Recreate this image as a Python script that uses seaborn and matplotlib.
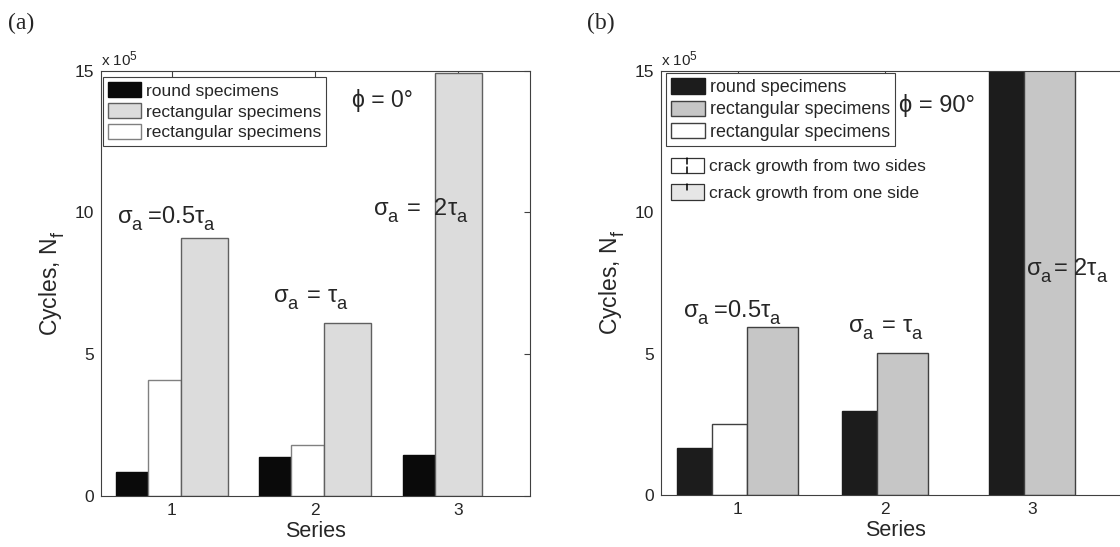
import numpy as np
import pandas as pd
import seaborn as sns
import matplotlib.pyplot as plt
from matplotlib.patches import Patch, Rectangle
from matplotlib.lines import Line2D
from matplotlib.legend_handler import HandlerBase
from matplotlib.colors import to_rgba

# data (cycles to failure, x 10^5)
series = [1, 2, 3]
kinds = ['round', 'rect_white', 'rect_grey']

phi0_round = [0.86, 1.37, 1.46]
phi0_rect_white = [4.09, 1.79, np.nan]
phi0_rect_grey = [9.11, 6.11, 14.93]

phi90_round = [1.65, 2.96, 16.0]      # series 3 runs off the top of the axes
phi90_rect_white = [2.50, np.nan, np.nan]
phi90_rect_grey = [5.95, 5.02, 16.0]

legend_labels = ['round specimens', 'rectangular specimens', 'rectangular specimens']
crack_labels = ['crack growth from two sides', 'crack growth from one side']

sns.set_style('white')
plt.rcParams['font.family'] = ['Liberation Sans', 'DejaVu Sans']
plt.rcParams['mathtext.fontset'] = 'custom'
plt.rcParams['mathtext.rm'] = 'Liberation Sans'
plt.rcParams['mathtext.it'] = 'Liberation Sans'
plt.rcParams['mathtext.bf'] = 'Liberation Sans:bold'

# matlab draws bigger subscripts and drops them lower than mathtext does
try:
    import matplotlib._mathtext as _mt
    _mt.FontConstantsBase.subdrop = 0.6
    _mt.FontConstantsBase.sub1 = 0.6
    _mt.FontConstantsBase.script_space = 0.2
    _mt.SHRINK_FACTOR = 0.78
except Exception:
    pass

SPINE = '#404040'


def draw_panel(ax, vals, colors, edges, widths, start=None):
    rows = []
    for kind, v in zip(kinds, vals):
        for s, y in zip(series, v):
            rows.append((s, kind, y))
    df = pd.DataFrame(rows, columns=['series', 'kind', 'cycles']).dropna()
    sns.barplot(data=df, x='series', y='cycles', hue='kind', hue_order=kinds,
                palette=dict(zip(kinds, colors)), saturation=1, errorbar=None,
                legend=False, ax=ax)

    # matlab-style layout: bars sit side by side, missing ones leave no gap
    rgba = [to_rgba(c) for c in colors]
    groups = {}
    for bar in ax.patches:
        k = min(range(3), key=lambda i: np.abs(np.array(bar.get_facecolor()) - rgba[i]).sum())
        g = int(round(bar.get_x() + bar.get_width() / 2))
        groups.setdefault(g, []).append((k, bar))
    for g, bars in groups.items():
        bars.sort(key=lambda t: t[0])
        total = sum(widths[k] for k, _ in bars)
        x = g + (start if start is not None else -total / 2)
        for k, bar in bars:
            bar.set_x(x)
            bar.set_width(widths[k])
            bar.set_edgecolor(edges[k])
            bar.set_linewidth(1.0)
            x += widths[k]

    ax.set_ylim(0, 15)
    ax.set_yticks([0, 5, 10, 15])
    ax.set_yticklabels(['0', '5', '10', '15'])
    ax.tick_params(direction='in', top=True, right=True, length=4, width=0.8,
                   color=SPINE, labelsize=12.5, pad=5)
    for sp in ax.spines.values():
        sp.set_color(SPINE)
        sp.set_linewidth(0.8)
    ax.set_xlabel('Series', fontsize=15.5, labelpad=2)
    ax.set_ylabel(r'Cycles, N$_f$', fontsize=16.5, labelpad=5)
    ax.text(0.0, 1.004, r'x 10$^5$', transform=ax.transAxes, fontsize=11,
            ha='left', va='bottom')


class CrackHandler(HandlerBase):
    def __init__(self, face, two_sided):
        super().__init__()
        self.face = face
        self.two_sided = two_sided

    def create_artists(self, legend, orig_handle, xdescent, ydescent, width,
                       height, fontsize, trans):
        x0, y0 = -xdescent, -ydescent
        rect = Rectangle((x0, y0), width, height, facecolor=self.face,
                         edgecolor='#333333', lw=0.9, transform=trans)
        cx = x0 + width / 2
        arts = [rect, Line2D([cx, cx], [y0 + height, y0 + height * 0.6],
                             color='k', lw=1.1, transform=trans)]
        if self.two_sided:
            arts.append(Line2D([cx, cx], [y0, y0 + height * 0.4],
                               color='k', lw=1.1, transform=trans))
        return arts


fig = plt.figure(figsize=(11.2, 5.47), dpi=100)
ax1 = fig.add_axes([0.0899, 0.0932, 0.3833, 0.7775])
ax2 = fig.add_axes([0.5899, 0.0951, 0.4190, 0.7757])

# (a) phi = 0
c1 = ['#0a0a0a', 'white', '#dcdcdc']
e1 = ['#0a0a0a', '#808080', '#606060']
draw_panel(ax1, [phi0_round, phi0_rect_white, phi0_rect_grey], c1, e1,
           widths=[0.225, 0.228, 0.328], start=-0.389)
ax1.set_xlim(-0.495, 2.5)

# (b) phi = 90
c2 = ['#1c1c1c', 'white', '#c6c6c6']
e2 = ['#1c1c1c', '#404040', '#404040']
draw_panel(ax2, [phi90_round, phi90_rect_white, phi90_rect_grey], c2, e2,
           widths=[0.236, 0.235, 0.348])
ax2.set_xlim(-0.523, 2.663)

for ax, cols, edges, anchor, fs in [(ax1, c1, e1, (0.006, 0.985), 12.5),
                                    (ax2, c2, e2, (0.0107, 0.995), 12.9)]:
    handles = [Patch(facecolor=cols[0], edgecolor=edges[0]),
               Patch(facecolor=cols[2], edgecolor=edges[2]),
               Patch(facecolor=cols[1], edgecolor=edges[1])]
    leg = ax.legend(handles, legend_labels, loc='upper left', bbox_to_anchor=anchor,
                    borderaxespad=0, fontsize=fs, handlelength=1.9, handleheight=0.95,
                    handletextpad=0.25, labelspacing=0.25, borderpad=0.3,
                    fancybox=False, framealpha=1, edgecolor=SPINE)
    leg.get_frame().set_linewidth(0.8)

leg_main = ax2.get_legend()
h_two, h_one = Patch(), Patch()
leg_crack = ax2.legend([h_two, h_one], crack_labels, loc='upper left',
                       bbox_to_anchor=(0.0213, 0.795), borderaxespad=0, borderpad=0,
                       frameon=False, fontsize=12.6, handlelength=1.9, handleheight=1.0,
                       handletextpad=0.3, labelspacing=0.55,
                       handler_map={h_two: CrackHandler('white', True),
                                    h_one: CrackHandler('#e6e6e6', False)})
ax2.add_artist(leg_main)

# annotations
ax1.text(-0.384, 9.63, r'$\sigma_a\,$=0.5$\tau_a$', fontsize=17, va='baseline')
ax1.text(0.705, 6.85, r'$\sigma_a$ = $\tau_a$', fontsize=17, va='baseline')
ax1.text(1.407, 9.91, r'$\sigma_a$ =  2$\tau_a$', fontsize=17, va='baseline')
ax1.text(1.256, 13.73, '\u03d5 = 0\u00b0', fontsize=16.5, va='baseline')

ax2.text(-0.369, 6.3, r'$\sigma_a\,$=0.5$\tau_a$', fontsize=17, va='baseline')
ax2.text(0.751, 5.77, r'$\sigma_a$ = $\tau_a$', fontsize=17, va='baseline')
ax2.text(1.957, 7.77, r'$\sigma_a$= 2$\tau_a$', fontsize=17, va='baseline')
ax2.text(1.095, 13.55, '\u03d5 = 90\u00b0', fontsize=17, va='baseline')

fig.text(8 / 1120, 1 - 23 / 547, '(a)', family='Liberation Serif', fontsize=17, va='center')
fig.text(587 / 1120, 1 - 23 / 547, '(b)', family='Liberation Serif', fontsize=17, va='center')

fig.savefig('out.png', dpi=100)
